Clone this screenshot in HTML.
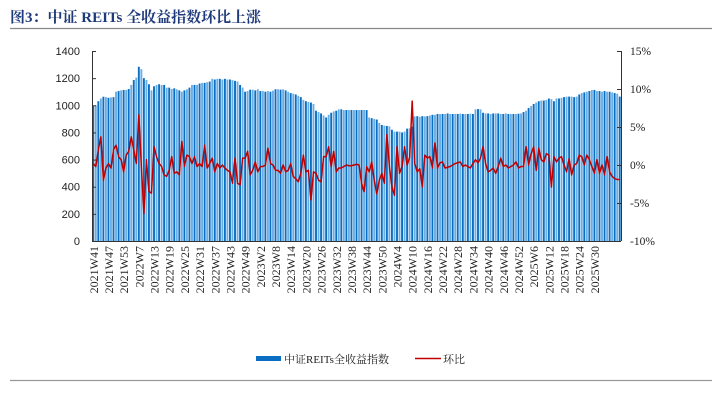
<!DOCTYPE html>
<html><head><meta charset="utf-8">
<style>
body{margin:0;background:#fff;width:719px;height:417px;overflow:hidden;}
svg{display:block;font-family:"Liberation Serif","Noto Serif CJK SC",serif;}
</style></head>
<body>
<svg id="chart" width="719" height="417">
<text x="10" y="22" font-size="15" font-weight="bold" fill="#1f3a7a">图3：中证 REITs 全收益指数环比上涨</text>
<line x1="10" y1="28.5" x2="712" y2="28.5" stroke="#888" stroke-width="1.2"/>
<line x1="10" y1="380.5" x2="712" y2="380.5" stroke="#999" stroke-width="1.2"/>
<g id="plot"></g>
<g>
<rect x="256" y="356" width="25" height="5" fill="#0a6fc2"/>
<text x="284" y="363" font-size="11" fill="#222">中证REITs全收益指数</text>
<line x1="415" y1="358.5" x2="441" y2="358.5" stroke="#c00000" stroke-width="1.5"/>
<text x="443" y="363" font-size="11" fill="#222">环比</text>
</g>
</svg>
<script>
const indexValues=[995,1000,1030,1050,1063,1060,1055,1058,1060,1100,1105,1110,1113,1113,1120,1150,1186,1204,1284,1266,1200,1186,1155,1110,1140,1150,1155,1150,1150,1130,1130,1120,1125,1118,1110,1100,1110,1118,1130,1150,1150,1150,1160,1165,1165,1170,1175,1195,1190,1195,1195,1190,1195,1190,1190,1185,1180,1175,1150,1130,1100,1105,1115,1115,1110,1118,1105,1105,1100,1105,1100,1108,1118,1118,1115,1118,1110,1100,1090,1085,1080,1070,1060,1040,1030,1025,1020,1010,960,950,940,925,910,930,945,955,960,970,970,965,965,965,965,965,965,965,965,965,965,910,905,900,895,870,855,850,848,845,820,806,806,806,800,806,828,830,843,918,920,915,920,918,920,925,930,930,936,936,936,936,940,936,936,936,936,938,936,936,936,938,936,970,972,970,945,940,940,936,940,940,940,936,936,940,936,936,936,936,938,940,950,960,980,995,1010,1020,1030,1035,1035,1040,1050,1045,1030,1050,1050,1055,1060,1064,1064,1064,1060,1064,1080,1090,1095,1100,1105,1113,1113,1105,1105,1100,1105,1100,1100,1095,1090,1085,1064];
const momValues=[0.2,-0.2,2,3.7,-2,-0.4,0.2,-0.4,2,2.6,1.1,0.7,-0.9,1.3,1.8,3.7,2,0.2,6.6,-0.2,-6.4,0.7,-3.5,-3.7,2.4,1.1,0.2,-0.2,-1.3,-1.5,-0.7,1.1,-1.1,-0.9,-1.3,3.1,-0.2,1.3,1.1,0.2,1.1,-0.2,0.2,-0.2,2.6,-0.4,0.2,0.9,-0.9,0.2,-0.4,0,-0.4,-0.7,-0.9,-2.4,0.9,-2.4,-2.6,0.9,0.9,1.8,-1.3,-0.7,0.4,-0.9,-0.2,-0.2,0,2.2,0.2,0,-0.7,-0.7,-1.1,0,-0.9,-0.7,0.2,-1.5,-1.8,-2.2,-1.1,1.3,-0.9,-0.7,-4.6,-0.9,-1.1,-2,-2.2,1.1,1.1,2.4,-0.2,1.8,-0.9,-0.4,-0.4,-0.2,0,-0.1,
-0.1,0,0.1,0,-2.4,-3.5,-0.2,-0.9,0.4,-2.0,-3.8,-2.0,-1.1,-2.4,4.0,-0.2,-2.9,-4.0,2.4,-1.1,-0.2,2.4,0,1.0,8.4,0.2,-0.9,-0.5,-2.9,1.3,0.9,1.1,-0.4,2.9,-0.4,0.3,0.4,-0.4,-0.3,-0.2,0,0.2,0.3,0.4,-0.2,0,-0.2,-0.4,0.2,0.7,0.3,0.9,2.4,0.2,-0.9,-0.7,-0.4,-1.1,-0.2,0.9,-0.2,0,-0.4,-0.2,0,0.4,-0.4,-0.2,-0.2,2.4,0,1.5,2.4,-0.7,2.2,0.7,0.4,1.5,1.3,-2.9,1.1,0.4,0.9,1.1,0,-0.9,0.8,-1.3,0,0.2,1.3,1.1,0,1.3,0.7,-0.2,-1.1,0.7,-1.1,0,-1.3,1.1,-0.9,-1.5,-1.8,-1.9,-1.9];
const tickLabels=["2021W41","2021W47","2021W53","2022W7","2022W13","2022W19","2022W25","2022W31","2022W37","2022W43","2022W49","2023W2","2023W8","2023W14","2023W20","2023W26","2023W32","2023W38","2023W44","2023W50","2024W4","2024W10","2024W16","2024W22","2024W28","2024W34","2024W40","2024W46","2024W52","2025W6","2025W12","2025W18","2025W24","2025W30"];
const leftTicks=[0,200,400,600,800,1000,1200,1400];
const rightTicks=[-10,-5,0,5,10,15];

const NS="http://www.w3.org/2000/svg";
const plot=document.getElementById('plot');
const X0=92,X1=621,Y0=241,Y1=51;
const n=indexValues.length;
const step=(X1-X0)/n;
function xAt(i){return X0+step*(i+0.5);}
function yL(v){return Y0-(v/1400)*(Y0-Y1);}
function yR(p){return Y0-((p+10)/25)*(Y0-Y1);}
function mk(tag,attrs){const e=document.createElementNS(NS,tag);for(const k in attrs)e.setAttribute(k,attrs[k]);plot.appendChild(e);return e;}

for(let i=0;i<n;i++){
  const r=mk('rect',{x:(xAt(i)-0.95).toFixed(2),y:yL(indexValues[i]).toFixed(2),width:1.9,height:(Y0-yL(indexValues[i])).toFixed(2),fill:i%2?'#6aaee6':'#0a6fc2'});
  
  
}
let d='';
for(let i=0;i<momValues.length;i++){d+=(i?'L':'M')+xAt(i).toFixed(2)+' '+yR(momValues[i]).toFixed(2);}
const ln=mk('path',{d:d,fill:'none',stroke:'#c00000','stroke-width':1.5,'stroke-linejoin':'round'});



const la=mk('line',{x1:X0+0.5,y1:Y1,x2:X0+0.5,y2:Y0,stroke:'#333'});


const ra=mk('line',{x1:X1+0.5,y1:Y1,x2:X1+0.5,y2:Y0,stroke:'#333'});


const xa=mk('line',{x1:X0,y1:Y0+0.5,x2:X1,y2:Y0+0.5,stroke:'#333'});



leftTicks.forEach(v=>{
  const t=mk('text',{x:80,y:yL(v)+4,'text-anchor':'end','font-size':11,fill:'#222','font-family':'Liberation Sans, sans-serif'});
  t.textContent=v;
  
  
  const tk=mk('line',{x1:X0,y1:yL(v)+0.5,x2:X0+4,y2:yL(v)+0.5,stroke:'#333'});
  
  
});
rightTicks.forEach(v=>{
  const t=mk('text',{x:630,y:yR(v)+4,'font-size':11.5,fill:'#222'});
  t.textContent=v+'%';
  
  
  const tk=mk('line',{x1:X1-4,y1:yR(v)+0.5,x2:X1,y2:yR(v)+0.5,stroke:'#333'});
  
  
});
tickLabels.forEach((s,k)=>{
  const x=xAt(k*6)+4.5;
  const t=mk('text',{x:0,y:0,'text-anchor':'end','font-size':12,fill:'#222',transform:'translate('+x.toFixed(2)+','+(Y0+5)+') rotate(-90)'});
  t.textContent=s;
  
  
});
</script>
</body></html>
